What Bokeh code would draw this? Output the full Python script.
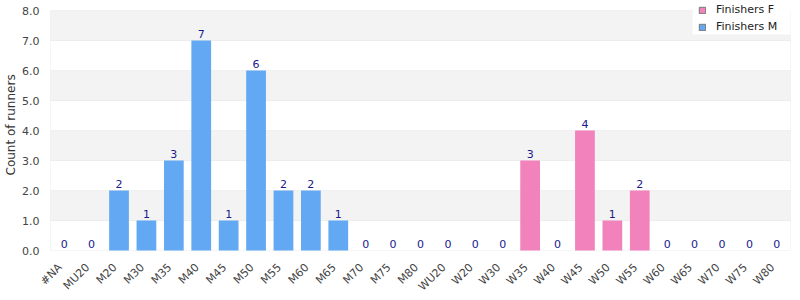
import math
from bokeh.plotting import figure
from bokeh.models import (ColumnDataSource, Legend, LegendItem, BoxAnnotation, LabelSet,
                          FixedTicker, Range1d, FactorRange, NumeralTickFormatter, Title)
from bokeh.core.properties import value
from bokeh.embed import file_html
from bokeh.resources import INLINE

categories = ["#NA", "MU20", "M20", "M30", "M35", "M40", "M45", "M50", "M55", "M60", "M65",
              "M70", "M75", "M80", "WU20", "W20", "W30", "W35", "W40", "W45", "W50", "W55",
              "W60", "W65", "W70", "W75", "W80"]
finishers_m = [0, 0, 2, 1, 3, 7, 1, 6, 2, 2, 1, 0, 0, 0, 0, 0, 0, 0, 0, 0, 0, 0, 0, 0, 0, 0, 0]
finishers_f = [0, 0, 0, 0, 0, 0, 0, 0, 0, 0, 0, 0, 0, 0, 0, 0, 0, 3, 0, 4, 1, 2, 0, 0, 0, 0, 0]
y_ticks = [0, 1, 2, 3, 4, 5, 6, 7, 8]
Y_MAX = 8

FONT = "DejaVu Sans"
BLUE = "#62a8f2"
PINK = "#f282bb"

# layout: plot box spans x 50..790 px and y 10..250 px; the drawing frame is larger
# (x 40..800, y 0..300) so that rotated labels and legend are not clipped
N = len(categories)
PX_X = 740.0 / N
PX_Y = 30.0
Y_LO = -50 / PX_Y
Y_HI = Y_MAX + 10 / PX_Y
X_PAD = 10 / PX_X

totals = [m + f for m, f in zip(finishers_m, finishers_f)]
src = ColumnDataSource(dict(cat=categories, m=finishers_m, f=finishers_f, total=totals,
                            label=[str(t) for t in totals], zero=[0] * N))

p = figure(x_range=FactorRange(*categories, range_padding=X_PAD, range_padding_units="absolute"),
           y_range=Range1d(Y_LO, Y_HI),
           width=800, height=300, output_backend="svg", toolbar_location=None,
           x_axis_location=None,
           min_border_left=40, min_border_right=0, min_border_top=0, min_border_bottom=0)
p.outline_line_color = None
p.xgrid.grid_line_color = None
p.ygrid.grid_line_color = None

# alternating bands with grid lines as their borders
for lo in range(Y_MAX):
    p.add_layout(BoxAnnotation(left=0, right=N, bottom=lo, top=lo + 1,
                               fill_color="#f3f3f3" if lo % 2 else "white", fill_alpha=1,
                               line_color="#dddddd", line_width=1, level="underlay"))

rm = p.vbar(x="cat", top="m", width=0.72, source=src, fill_color=BLUE, line_color=None)
rf = p.vbar(x="cat", top="f", width=0.72, source=src, fill_color=PINK, line_color=None)

labels = LabelSet(x="cat", y="total", text="label", source=src, text_align="center",
                  y_offset=3, text_font_size="11px", text_color="#1a1a8c", text_font=value(FONT))
p.add_layout(labels)

# rotated category labels, right-aligned under each bar
xlabels = LabelSet(x="cat", y="zero", text="cat", source=src, angle=math.pi / 4,
                   text_align="right", text_baseline="middle", x_offset=-4, y_offset=-15,
                   text_font_size="11px", text_color="#444444", text_font=value(FONT))
p.add_layout(xlabels)

p.yaxis.ticker = FixedTicker(ticks=y_ticks)
p.yaxis.formatter = NumeralTickFormatter(format="0.0")
p.yaxis.axis_line_color = None
p.yaxis.major_tick_line_color = None
p.yaxis.minor_tick_line_color = None
p.yaxis.major_tick_out = 0
p.yaxis.major_tick_in = 0
p.yaxis.major_label_text_font = FONT
p.yaxis.major_label_text_font_size = "11px"
p.yaxis.major_label_text_color = "#444444"
p.yaxis.major_label_standoff = 1

p.add_layout(Title(text="Count of runners", align="left", offset=125, vertical_align="top",
                   text_font=FONT, text_font_size="12px", text_font_style="normal",
                   text_color="#333333", standoff=0), "left")

# legend with a white box behind it
leg_m = p.vbar(x="cat", top="m", width=0.72, source=src, fill_color=BLUE,
               line_color="#777777", visible=False)
leg_f = p.vbar(x="cat", top="f", width=0.72, source=src, fill_color=PINK,
               line_color="#777777", visible=False)
p.add_layout(BoxAnnotation(left=N - 98 / PX_X, right=N, top=Y_HI,
                           bottom=Y_HI - 34 / PX_Y, fill_color="white", fill_alpha=1,
                           line_alpha=0, level="overlay"))
legend = Legend(items=[LegendItem(label="Finishers F", renderers=[leg_f]),
                       LegendItem(label="Finishers M", renderers=[leg_m])],
                location=(659 - 1, 300 - 34), margin=0, padding=1, spacing=2,
                label_text_font=FONT, label_text_font_size="11px", label_text_color="#222222",
                glyph_width=8, glyph_height=8, label_height=15, label_standoff=10,
                border_line_color=None, background_fill_alpha=0,
                inactive_fill_alpha=0, click_policy="none")
p.add_layout(legend)

open("out.html", "w").write(file_html(p, INLINE))
